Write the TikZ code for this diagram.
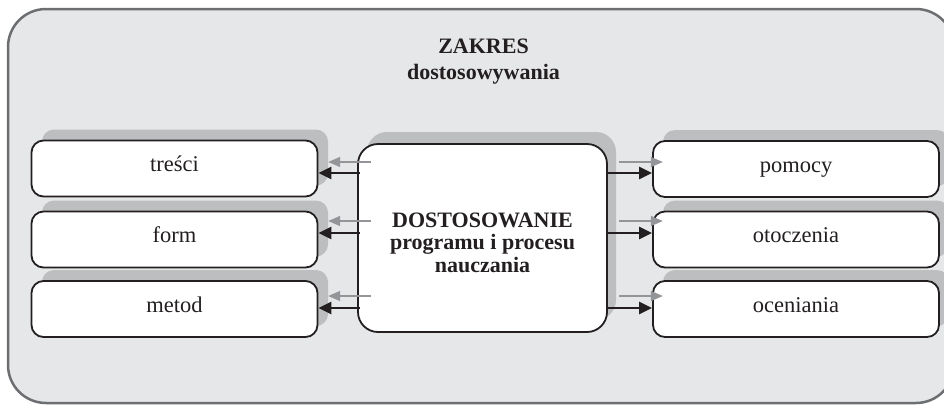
\documentclass[tikz,border=0pt]{standalone}
\usepackage{fontspec}
\setmainfont{Liberation Serif}
\usetikzlibrary{arrows.meta}
\definecolor{bg}{HTML}{E6E7E8}
\definecolor{shd}{HTML}{BCBEC0}
\definecolor{framec}{HTML}{6D6E71}
\definecolor{ink}{HTML}{231F20}
\definecolor{garr}{HTML}{939598}
\begin{document}
\begin{tikzpicture}[x=1pt,y=-1pt,
  lbl/.style={font=\fontsize{22.5}{26}\selectfont, text=ink},
  box/.style={lbl, draw=ink, line width=1.8pt, fill=white, rounded corners=12pt,
    minimum width=286pt, minimum height=56pt, inner sep=0pt, text height=0.65em, text depth=0pt},
  shbox/.style={fill=shd, rounded corners=12pt, minimum width=286pt, minimum height=56pt, inner sep=0pt},
  bigbox/.style={draw=ink, line width=1.8pt, fill=white, rounded corners=20pt,
    minimum width=249pt, minimum height=188pt, inner sep=0pt},
  bigsh/.style={fill=shd, rounded corners=20pt, minimum width=249pt, minimum height=188pt, inner sep=0pt},
  ttl/.style={font=\bfseries\fontsize{22}{26}\selectfont, text=ink, anchor=base, inner sep=0pt},
  blk/.style={draw=ink, line width=2.4pt, -{Triangle[length=13pt,width=12pt]}},
  gry/.style={draw=garr, line width=1.3pt, -{Triangle[length=12pt,width=10pt]}}
]
\useasboundingbox (0,0) rectangle (944,405);
\clip (0,0) rectangle (944,405);
\draw[draw=framec, line width=2.5pt, fill=bg, rounded corners=38pt] (8,9) rectangle (954,403);

% title
\node[ttl] (zak) at (483.5,53) {ZAKRES};
\node[ttl] (dost) at (483.5,79) {dostosowywania};

% shadows
\node[shbox] (s1) at (185,157.5) {};
\node[shbox] (s2) at (185,228.5) {};
\node[shbox] (s3) at (185,298) {};
\node[shbox] (s4) at (806,158) {};
\node[shbox] (s5) at (806,228.5) {};
\node[shbox] (s6) at (806,298) {};
\node[bigsh] (s0) at (491.5,226) {};

% boxes
\node[box] (tresci) at (174.5,168.5) {treści};
\node[box] (form) at (174.5,239.5) {form};
\node[box] (metod) at (174.5,309) {metod};
\node[box] (pomocy) at (796,169) {pomocy};
\node[box] (otocz) at (796,239.5) {otoczenia};
\node[box] (ocen) at (796,309) {oceniania};
\node[bigbox] (cbox) at (482.5,238) {};

% centre text
\node[ttl] (c1) at (482.5,227) {DOSTOSOWANIE};
\node[ttl] (c2) at (482.5,249.5) {programu i procesu};
\node[ttl] (c3) at (482.5,272) {nauczania};

% black arrows
\draw[blk] (cbox.west |- 0,173) ++(3,0) -- (tresci.east |- 0,173);
\draw[blk] (cbox.west |- 0,233) ++(3,0) -- (form.east |- 0,233);
\draw[blk] (cbox.west |- 0,308) ++(3,0) -- (metod.east |- 0,308);
\draw[blk] (cbox.east |- 0,173) -- (pomocy.west |- 0,173);
\draw[blk] (cbox.east |- 0,233) -- (otocz.west |- 0,233);
\draw[blk] (cbox.east |- 0,308) -- (ocen.west |- 0,308);

% grey arrows
\draw[gry] (cbox.west |- 0,162) ++(14,0) -- (s1.east |- 0,162);
\draw[gry] (cbox.west |- 0,221) ++(14,0) -- (s2.east |- 0,221);
\draw[gry] (cbox.west |- 0,296) ++(14,0) -- (s3.east |- 0,296);
\draw[gry] (s0.east |- 0,162) ++(3,0) -- (s4.west |- 0,162);
\draw[gry] (s0.east |- 0,221) ++(3,0) -- (s5.west |- 0,221);
\draw[gry] (s0.east |- 0,296) ++(3,0) -- (s6.west |- 0,296);
\end{tikzpicture}
\end{document}
